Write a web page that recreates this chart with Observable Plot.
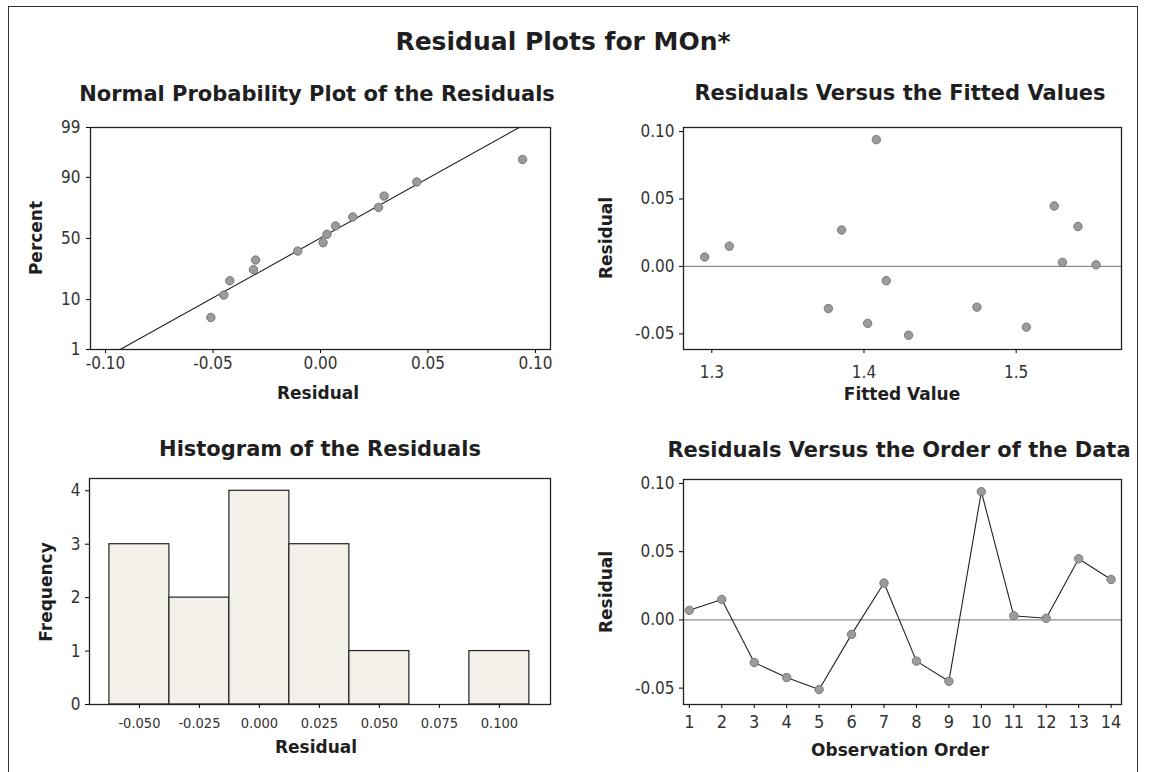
<!DOCTYPE html>
<html>
<head>
<meta charset="utf-8">
<script src="https://cdn.jsdelivr.net/npm/d3@7"></script>
<script src="https://cdn.jsdelivr.net/npm/@observablehq/plot@0.6"></script>
<style>
  html, body { margin: 0; padding: 0; background: #ffffff; overflow: hidden; }
  #root { position: relative; width: 1151px; height: 772px; overflow: hidden; background: #ffffff; }
  #border { position: absolute; left: 8px; top: 6px; width: 1130px; height: 800px; border: 1.5px solid #333; box-sizing: border-box; }
  .wrap { position: absolute; }
  .wrap svg text {
    font-family: "DejaVu Sans Condensed", "DejaVu Sans", sans-serif !important;
    font-stretch: condensed;
    font-size: 17px !important;
    fill: #333;
  }
  #p3 g[aria-label="x-axis tick label"] text { font-size: 14.5px !important; }
  #p4 g[aria-label="x-axis tick label"] text { font-size: 18px !important; }
</style>
</head>
<body>
<div id="root"><div id="border"></div></div>
<script>
// ---------------- data ----------------
const observationOrder = [1, 2, 3, 4, 5, 6, 7, 8, 9, 10, 11, 12, 13, 14];
const residuals = [0.0070, 0.0150, -0.0312, -0.0422, -0.0510, -0.0106, 0.0270, -0.0302, -0.0450, 0.0940, 0.0030, 0.0012, 0.0448, 0.0296];
const fittedValues = [1.2953, 1.3115, 1.3766, 1.4024, 1.4293, 1.4146, 1.3853, 1.4742, 1.5067, 1.4081, 1.5304, 1.5525, 1.5250, 1.5406];
// percent positions of the sorted residuals on the normal probability plot
const probPercents = [4.9, 11.8, 18.8, 25.7, 32.6, 39.6, 46.5, 53.5, 60.4, 67.4, 74.3, 81.3, 88.2, 95.1];
const percentTicks = [1, 10, 50, 90, 99];
// fitted normal line (mean and standard deviation)
const fitMean = -0.0004;
const fitSd = 0.0399;
// histogram
const histBinCenters = [-0.050, -0.025, 0.000, 0.025, 0.050, 0.075, 0.100];
const histCounts = [3, 2, 4, 3, 1, 0, 1];
const histYTicks = [0, 1, 2, 3, 4];
// tick labels
const probXTicks = [-0.10, -0.05, 0.00, 0.05, 0.10];
const fittedXTicks = [1.3, 1.4, 1.5];
const residualYTicks = [-0.05, 0.00, 0.05, 0.10];

const titles = {
  main: "Residual Plots for MOn*",
  p1: "Normal Probability Plot of the Residuals",
  p2: "Residuals Versus the Fitted Values",
  p3: "Histogram of the Residuals",
  p4: "Residuals Versus the Order of the Data"
};
const axisLabels = {
  p1x: "Residual", p1y: "Percent",
  p2x: "Fitted Value", p2y: "Residual",
  p3x: "Residual", p3y: "Frequency",
  p4x: "Observation Order", p4y: "Residual"
};

// ---------------- helpers ----------------
function probit(p) {
  const a = [-3.969683028665376e+01, 2.209460984245205e+02, -2.759285104469687e+02, 1.383577518672690e+02, -3.066479806614716e+01, 2.506628277459239e+00];
  const b = [-5.447609879822406e+01, 1.615858368580409e+02, -1.556989798598866e+02, 6.680131188771972e+01, -1.328068155288572e+01];
  const c = [-7.784894002430293e-03, -3.223964580411365e-01, -2.400758277161838e+00, -2.549732539343734e+00, 4.374664141464968e+00, 2.938163982698783e+00];
  const d = [7.784695709041462e-03, 3.224671290700398e-01, 2.445134137142996e+00, 3.754408661907416e+00];
  const pl = 0.02425, ph = 1 - pl;
  let q, r;
  if (p < pl) {
    q = Math.sqrt(-2 * Math.log(p));
    return (((((c[0]*q+c[1])*q+c[2])*q+c[3])*q+c[4])*q+c[5]) / ((((d[0]*q+d[1])*q+d[2])*q+d[3])*q+1);
  }
  if (p <= ph) {
    q = p - 0.5; r = q * q;
    return (((((a[0]*r+a[1])*r+a[2])*r+a[3])*r+a[4])*r+a[5])*q / (((((b[0]*r+b[1])*r+b[2])*r+b[3])*r+b[4])*r+1);
  }
  q = Math.sqrt(-2 * Math.log(1 - p));
  return -(((((c[0]*q+c[1])*q+c[2])*q+c[3])*q+c[4])*q+c[5]) / ((((d[0]*q+d[1])*q+d[2])*q+d[3])*q+1);
}

const root = document.getElementById("root");
function place(node, left, top, id) {
  const w = document.createElement("div");
  w.className = "wrap";
  w.id = id;
  w.style.left = left + "px";
  w.style.top = top + "px";
  w.appendChild(node);
  root.appendChild(w);
}

const baseStyle = { background: "transparent", overflow: "visible" };
const frameOpts = { stroke: "#222", strokeWidth: 1.3 };
const dotOpts = { r: 4.2, fill: "#9b9b9b", stroke: "#6f6f6f", strokeWidth: 0.9 };

// ---------------- panel 1: normal probability plot ----------------
const sortedRes = d3.sort(residuals);
const probData = sortedRes.map((r, i) => ({ r, z: probit(probPercents[i] / 100) }));
const zLo = probit(percentTicks[0] / 100), zHi = probit(percentTicks[percentTicks.length - 1] / 100);
const fitLineData = [zLo, zHi].map(z => ({ z, r: fitMean + fitSd * z }));
const percentLabel = z => { const p = percentTicks.find(p => Math.abs(probit(p / 100) - z) < 1e-9); return p == null ? "" : String(p); };

const p1 = Plot.plot({
  width: 575, height: 300,
  marginLeft: 90, marginRight: 25, marginTop: 17, marginBottom: 61,
  style: baseStyle,
  x: { domain: [-0.107, 0.107] },
  y: { domain: [zLo, zHi] },
  marks: [
    Plot.line(fitLineData, { x: "r", y: "z", stroke: "#222", strokeWidth: 1.1 }),
    Plot.dot(probData, { x: "r", y: "z", ...dotOpts }),
    Plot.frame(frameOpts),
    Plot.axisX({ ticks: probXTicks, tickFormat: d => d.toFixed(2), tickSize: 4, tickPadding: 3, label: null }),
    Plot.axisY({ ticks: percentTicks.map(p => probit(p / 100)), tickFormat: percentLabel, tickSize: 4, tickPadding: 6, label: null })
  ]
});
place(p1, 0, 110, "p1");

// ---------------- panel 2: residuals vs fitted ----------------
const fittedData = fittedValues.map((f, i) => ({ f, r: residuals[i] }));
const p2 = Plot.plot({
  width: 576, height: 300,
  marginLeft: 108, marginRight: 30, marginTop: 17, marginBottom: 61,
  style: baseStyle,
  x: { domain: [1.2814, 1.5692] },
  y: { domain: [-0.0616, 0.103] },
  marks: [
    Plot.ruleY([0], { stroke: "#8a8a8a", strokeWidth: 1.3 }),
    Plot.dot(fittedData, { x: "f", y: "r", ...dotOpts }),
    Plot.frame(frameOpts),
    Plot.axisX({ ticks: fittedXTicks, tickFormat: d => d.toFixed(1), tickSize: 4, tickPadding: 12, label: null }),
    Plot.axisY({ ticks: residualYTicks, tickFormat: d => d.toFixed(2), tickSize: 4, tickPadding: 5, label: null })
  ]
});
place(p2, 575, 110, "p2");

// ---------------- panel 3: histogram ----------------
const binWidth = histBinCenters[1] - histBinCenters[0];
const histData = histBinCenters.map((c, i) => ({ c, n: histCounts[i] }));
const p3 = Plot.plot({
  width: 575, height: 280,
  marginLeft: 89, marginRight: 25, marginTop: 18, marginBottom: 36,
  style: baseStyle,
  x: { domain: [-0.0708, 0.1213] },
  y: { domain: [0, 4.23] },
  marks: [
    Plot.rectY(histData, { x1: d => d.c - binWidth / 2, x2: d => d.c + binWidth / 2, y: "n", fill: "#f3f0e9", stroke: "#222", strokeWidth: 1.2 }),
    Plot.frame(frameOpts),
    Plot.axisX({ ticks: histBinCenters, tickFormat: d => d.toFixed(3), tickSize: 4, tickPadding: 9, label: null }),
    Plot.axisY({ ticks: histYTicks, tickFormat: d => String(d), tickSize: 4, tickPadding: 5, label: null })
  ]
});
place(p3, 0, 460, "p3");

// ---------------- panel 4: residuals vs order ----------------
const orderData = observationOrder.map((o, i) => ({ o, r: residuals[i] }));
const p4 = Plot.plot({
  width: 576, height: 280,
  marginLeft: 108, marginRight: 30, marginTop: 19, marginBottom: 36,
  style: baseStyle,
  x: { domain: [0.82, 14.32] },
  y: { domain: [-0.062, 0.1029] },
  marks: [
    Plot.ruleY([0], { stroke: "#8a8a8a", strokeWidth: 1.3 }),
    Plot.line(orderData, { x: "o", y: "r", stroke: "#222", strokeWidth: 1.1 }),
    Plot.dot(orderData, { x: "o", y: "r", ...dotOpts }),
    Plot.frame(frameOpts),
    Plot.axisX({ ticks: observationOrder, tickFormat: d => String(d), tickSize: 4, tickPadding: 7, label: null }),
    Plot.axisY({ ticks: residualYTicks, tickFormat: d => d.toFixed(2), tickSize: 4, tickPadding: 5, label: null })
  ]
});
place(p4, 575, 460, "p4");

// ---------------- titles and axis labels ----------------
const overlay = d3.create("svg")
  .attr("width", 1151).attr("height", 772)
  .style("position", "absolute").style("left", "0px").style("top", "0px")
  .style("pointer-events", "none")
  .attr("font-family", '"DejaVu Sans", sans-serif')
  .attr("font-weight", "bold")
  .attr("fill", "#1f1f1f")
  .attr("text-anchor", "middle");

const textItems = [
  { t: titles.main, x: 563, y: 50, s: 25 },
  { t: titles.p1, x: 317, y: 101, s: 21 },
  { t: titles.p2, x: 900, y: 100, s: 21 },
  { t: titles.p3, x: 320, y: 456, s: 21 },
  { t: titles.p4, x: 899, y: 457, s: 21 },
  { t: axisLabels.p1x, x: 318, y: 399, s: 17 },
  { t: axisLabels.p2x, x: 902, y: 400, s: 17 },
  { t: axisLabels.p3x, x: 316, y: 753, s: 17 },
  { t: axisLabels.p4x, x: 900, y: 756, s: 17 },
  { t: axisLabels.p1y, x: 42, y: 238, s: 17, rot: true },
  { t: axisLabels.p2y, x: 612, y: 238, s: 17, rot: true },
  { t: axisLabels.p3y, x: 52, y: 592, s: 17, rot: true },
  { t: axisLabels.p4y, x: 612, y: 592, s: 17, rot: true }
];
for (const it of textItems) {
  overlay.append("text")
    .attr("transform", it.rot ? `translate(${it.x},${it.y}) rotate(-90)` : `translate(${it.x},${it.y})`)
    .attr("font-size", it.s)
    .text(it.t);
}
root.appendChild(overlay.node());
</script>
</body>
</html>
